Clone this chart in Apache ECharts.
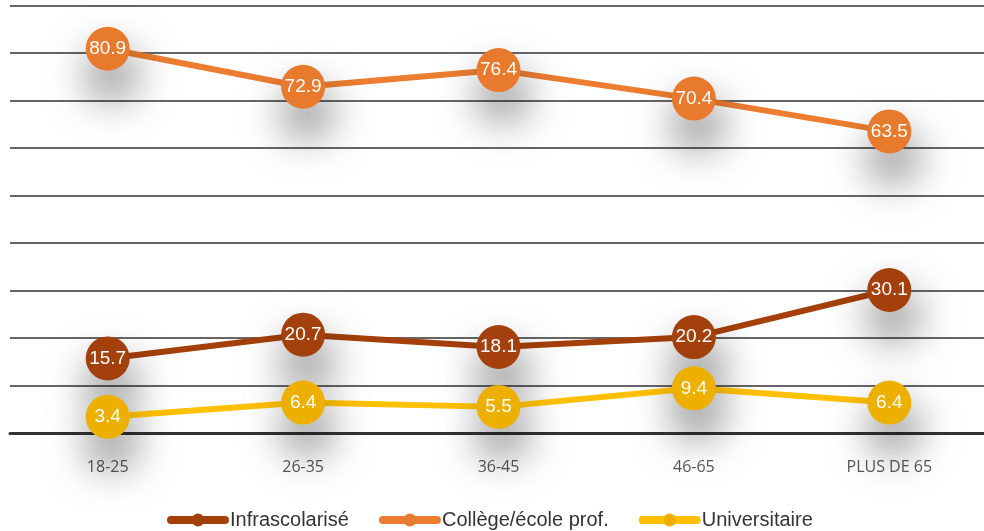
<!DOCTYPE html>
<html>
<head>
<meta charset="utf-8">
<script src="https://cdn.jsdelivr.net/npm/echarts@6/dist/echarts.min.js"></script>
<style>
  html, body { margin: 0; padding: 0; background: #fff; }
  #main { width: 984px; height: 531px; }
</style>
</head>
<body>
<div id="main"></div>
<script>
// categories (age groups)
const ageGroups = ['18-25', '26-35', '36-45', '46-65', 'PLUS DE 65']
// series values (%)
const infraValues = [15.7, 20.7, 18.1, 20.2, 30.1]
const collegeValues = [80.9, 72.9, 76.4, 70.4, 63.5]
const univValues = [3.4, 6.4, 5.5, 9.4, 6.4]

const seriesNames = ['Infrascolarisé', 'Collège/école prof.', 'Universitaire']
const lineColors = ['#A5400A', '#ED7D31', '#FFC000']
const dotColors = ['#A3400C', '#E87A2E', '#EDB000']

function makeSeries (name, data, i) {
  return {
    name: name,
    type: 'line',
    data: data,
    symbol: 'circle',
    symbolSize: 44,
    z: 3 + i,
    lineStyle: { color: lineColors[i], width: 6 },
    itemStyle: {
      color: dotColors[i],
      shadowColor: 'rgba(0,0,0,0.6)',
      shadowBlur: 44,
      shadowOffsetY: 26,
      shadowOffsetX: 4
    },
    label: {
      show: true,
      position: 'inside',
      color: '#fff',
      fontSize: 19,
      fontFamily: 'Liberation Sans, Arial, sans-serif',
      formatter: p => p.value.toFixed(1)
    },
    emphasis: { disabled: true }
  }
}

const chart = echarts.init(document.getElementById('main'))
chart.setOption({
  animation: false,
  backgroundColor: '#fff',
  grid: { left: 10, width: 977, top: 5.5, bottom: 98, outerBoundsMode: 'none' },
  legend: {
    top: 505,
    left: 162,
    itemWidth: 54,
    itemHeight: 16,
    itemGap: 30,
    lineStyle: { width: 8, cap: 'round' },
    textStyle: { fontSize: 20, color: '#333', fontFamily: 'Liberation Sans, sans-serif' },
    data: seriesNames
  },
  xAxis: {
    type: 'category',
    data: ageGroups,
    boundaryGap: true,
    axisLine: { show: true, lineStyle: { color: '#333', width: 3 } },
    axisTick: { show: false },
    axisLabel: { color: '#595959', fontSize: 16, margin: 26, fontFamily: 'Open Sans, sans-serif' }
  },
  yAxis: {
    type: 'value',
    min: 0,
    max: 90,
    interval: 10,
    axisLine: { show: false },
    axisTick: { show: false },
    axisLabel: { show: false },
    splitLine: { lineStyle: { color: '#666', width: 2 } }
  },
  series: [
    makeSeries(seriesNames[0], infraValues, 0),
    makeSeries(seriesNames[1], collegeValues, 1),
    makeSeries(seriesNames[2], univValues, 2)
  ]
})
</script>
</body>
</html>
